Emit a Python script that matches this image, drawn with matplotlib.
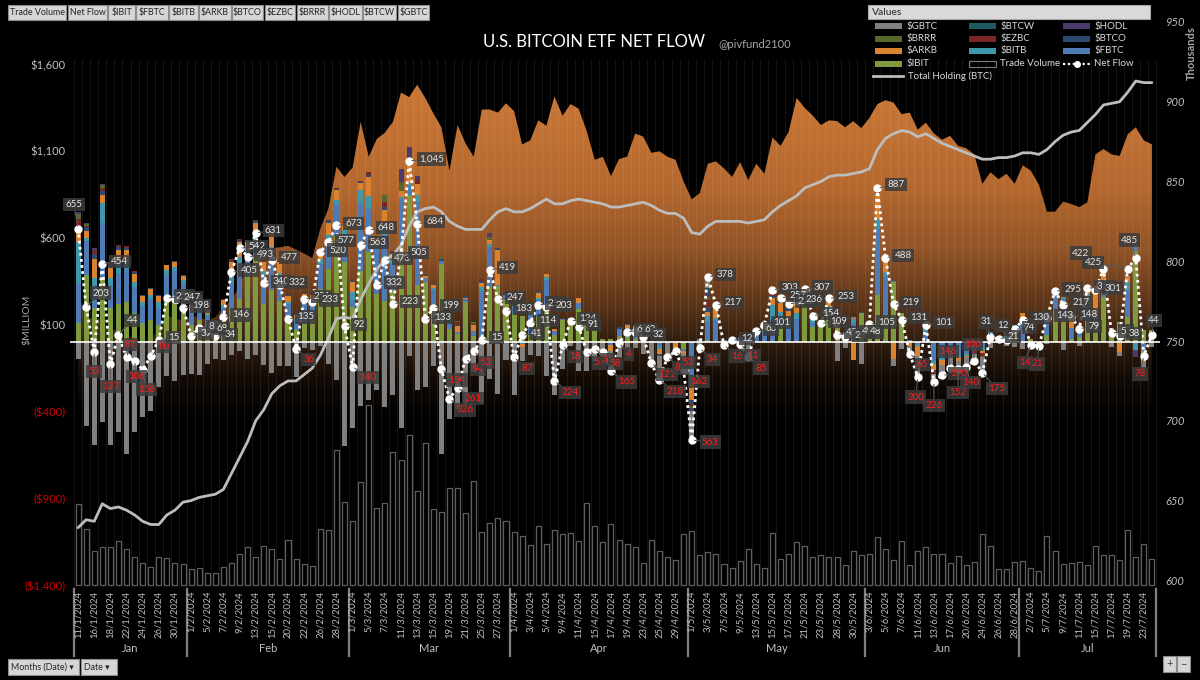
import numpy as np
import matplotlib
matplotlib.use("Agg")
import matplotlib.pyplot as plt
from matplotlib.colors import LinearSegmentedColormap
from matplotlib.patches import Rectangle
from matplotlib.lines import Line2D
import matplotlib.transforms as mtransforms

plt.rcParams["font.family"] = ["Lato", "DejaVu Sans"]

# ---------------- data ----------------
MONTHS = ["Jan", "Feb", "Mar", "Apr", "May", "Jun", "Jul"]
TRADING_DAYS = [
    [11, 12, 16, 17, 18, 19, 22, 23, 24, 25, 26, 29, 30, 31],
    [1, 2, 5, 6, 7, 8, 9, 12, 13, 14, 15, 16, 20, 21, 22, 23, 26, 27, 28, 29],
    [1, 4, 5, 6, 7, 8, 11, 12, 13, 14, 15, 18, 19, 20, 21, 22, 25, 26, 27, 28],
    [1, 2, 3, 4, 5, 8, 9, 10, 11, 12, 15, 16, 17, 18, 19, 22, 23, 24, 25, 26, 29, 30],
    [1, 2, 3, 6, 7, 8, 9, 10, 13, 14, 15, 16, 17, 20, 21, 22, 23, 24, 28, 29, 30, 31],
    [3, 4, 5, 6, 7, 10, 11, 12, 13, 14, 17, 18, 20, 21, 24, 25, 26, 27, 28],
    [1, 2, 3, 5, 8, 9, 10, 11, 12, 15, 16, 17, 18, 19, 22, 23, 24],
]

NET_FLOW = [655, 203, -53, 454, -127, 44, -87, -106, -158, -80, 15, 255, 247, 198,
            39, 80, 68, 34, 146, 405, 542, 493, 631, 340, 477, 332, 135, -36, 251, 233, 520, 577, 673, 92,
            -140, 563, 648, 332, 473, 223, 505, 1045, 684, 133, 199, -154, -326, -261, -94, -52, 15, 419, 247, 183,
            -87, 41, 114, 215, 203, -224, -18, 124, 91, -55, -36, -58, -165, -4, 60, 62, 32, -121, -218, -84, -52, -162,
            -563, -34, 378, 217, -16, 12, -11, -85, 66, 101, 303, 257, 222, 236, 307, 154, 109, 253, 45, 28, 49, 48,
            105, 887, 488, 219, 131, -65, -200, 101, -226, -190, -146, -152, -140, -106, -175, 31, 21, 12, 74,
            130, -14, -21, 143, 295, 217, 148, 79, 311, 301, 422, 53, 38, 425, 485, -78, 44]

IBIT = [112, 386, 200, 378, 200, 220, 230, 170, 110, 130, 100, 230, 230, 200,
        100, 130, 90, 60, 120, 200, 250, 380, 490, 220, 300, 240, 140, 70, 110, 130, 310, 420, 610, 460,
        202, 413, 520, 278, 240, 300, 557, 849, 330, 345, 200, 451, 75, 50, 233, 35, 35, 317, 323, 242,
        165, 150, 42, 144, 200, 45, 129, 128, 192, 111, 73, 19, 18, 37, 30, 19, 21, 0, 0, 0, 0, -37,
        0, 0, 12, 0, 0, 0, 0, 0, 0, 0, 0, 93, 0, 0, 290, 91, 89, 182, 102, 0, 0, 169,
        60, 274, 157, 350, 168, 6, 0, 0, 0, 0, 0, 0, 0, 0, 0, 0, 0, 0, 82,
        0, 20, 0, 40, 187, 121, 20, 30, 120, 117, 260, 80, 117, 148, 526, 73, 70]

FBTC = [227, 200, 110, 308, 130, 180, 190, 150, 100, 120, 100, 160, 180, 140,
        70, 85, 60, 40, 80, 150, 200, 120, 110, 160, 210, 130, 80, 60, 120, 90, 140, 160, 180, 160,
        40, 390, 250, 270, 380, 150, 269, 51, 480, 25, 100, 20, 40, 12, 19, 29, 261, 230, 10, 30,
        44, 0, 117, 100, 160, 20, 3, 15, 37, 0, 0, 2, -14, 40, 37, 35, 22, 5, -23, -3, 7, -13,
        -191, 6, 103, 130, 12, 21, 33, 9, 50, 60, 131, 67, 99, 136, 0, 19, 0, 19, 0, 40, 110, 0,
        30, 378, 220, 3, 0, 9, -9, 68, -106, -80, -60, -80, -70, -50, -35, 56, 4, 20, 0,
        110, 0, 0, 100, 77, 130, 60, 70, 115, 20, 61, 0, 0, 150, 41, -35, 0]

BITB = [238, 14, 60, 115, 40, 60, 50, 30, 20, 22, 30, 25, 25, 20,
        15, 18, 12, 10, 15, 40, 40, 30, 30, 30, 40, 30, 15, 10, 20, 20, 30, 40, 30, 25,
        48, 77, 70, 20, 50, 30, 13, 20, 40, 0, 12, 0, 0, 0, 0, 0, 20, 20, 0, 0,
        0, -10, 10, 10, 15, 0, 0, 0, 0, 0, 0, 0, 0, 0, 17, 15, 0, 0, -14, 0, 0, 0,
        -45, 14, 34, 13, 0, 0, 0, 10, 8, 11, 86, 14, 37, 35, 0, 34, 20, 10, 0, 19, 20, 0,
        15, 61, 30, -6, 1, 0, -14, 20, -18, -20, 0, -10, -10, 0, -15, 5, 17, 15, 19,
        30, 0, 4, 10, 10, 10, 0, 0, 43, 14, 35, 0, 0, 48, -44, -15, 0]

ARKB = [65, 42, 110, 48, 60, 70, 60, 45, 35, 35, 35, 28, 28, 22,
        28, 30, 22, 15, 27, 75, 90, 45, 60, 50, 85, 60, 30, 18, 30, 30, 50, 70, 55, 40,
        58, 38, 110, 30, 90, 30, 35, 93, 60, 10, 20, 0, 0, 30, 2, 35, 25, 24, 200, 0,
        0, -18, 20, 30, 20, 14, 4, -1, 28, 0, 0, 0, -35, 0, 18, 24, 50, 4, -31, 0, -32, -18,
        -98, 0, 28, 70, 0, -9, 0, 0, 8, 30, 38, 50, 43, 57, 0, 10, 0, 20, 30, 0, -99, 0,
        0, 139, 71, -90, 0, -22, -56, 6, -38, -30, -25, -20, -7, 0, -12, 0, 0, 0, 0,
        30, 0, 0, 0, 15, 0, 48, 0, 33, 150, 42, 0, -53, 38, 0, -61, 0]

GBTC = [-95, -484, -594, -458, -590, -519, -641, -515, -429, -394, -255, -192, -221, -188,
        -182, -191, -122, -95, -102, -73, -52, -95, -72, -131, -174, -138, -138, -199, -35, -44, -22, -125, -216, -599,
        -492, -368, -332, -274, -375, -303, -494, -79, -276, -257, -139, -643, -443, -386, -358, -170, -350, -212, -299, -104,
        -302, -81, -75, -80, -192, -303, -154, -18, -166, -166, -110, -79, -134, -90, -45, -35, -66, -130, -140, -81, -25, -94,
        -167, -54, 63, 4, -28, 0, -44, -104, 0, 0, 27, 0, 0, 0, 0, 0, 0, 0, -105, -31, 18, -124,
        0, 0, 0, -38, -38, -58, -121, 0, -46, -60, -61, -42, -53, -38, -90, -30, 0, -23, -27,
        -40, -34, -25, -7, 0, -44, 0, -21, 0, 0, 0, -27, -26, 0, 0, -40, -26]

# small funds: {day index: flow}
BTCO = {0: 17, 1: 20, 2: 30, 3: 25, 4: 15, 5: 18, 6: 14, 7: 9, 8: 6, 9: 7, 10: 5, 11: 4, 12: 5, 13: 4,
        14: 5, 15: 5, 16: 4, 17: 3, 18: 4, 19: 6, 20: 6, 21: 6, 22: 6, 23: 5, 24: 8, 25: 5, 26: 5, 27: 3,
        28: 4, 29: 4, 30: 6, 31: 6, 32: 7, 33: 3, 34: 4, 35: 8, 36: 15, 37: 8, 38: 20, 39: 10, 43: 5, 44: 6,
        45: 10, 46: 2, 47: 10, 48: 10, 50: 12, 52: 8, 53: 10, 54: 6, 57: 11, 67: 9, 68: 3, 69: 4, 70: 5,
        72: -10, 74: -2, 76: -20, 78: 29, 86: 10, 87: 15, 88: 20, 89: 8, 90: 10, 93: 12, 94: 10, 97: 3,
        99: 10, 100: 10, 105: 7, 106: -10, 121: 6, 127: 12, 130: 10}
EZBC = {0: 50, 1: 10, 2: 15, 3: 15, 4: 10, 5: 10, 6: 10, 7: 5, 14: 3, 15: 3, 16: 2, 17: 1, 18: 2, 19: 7,
        20: 8, 21: 7, 22: 7, 23: 6, 24: 8, 25: 5, 26: 3, 27: 2, 28: 2, 29: 3, 30: 6, 31: 6, 32: 7, 33: 3,
        35: 5, 36: 15, 38: 28, 39: 6, 42: 25, 43: 5, 47: 15, 49: 9, 50: 12, 52: 5, 53: 5, 76: -15, 78: 40,
        86: 11, 87: 18, 88: 23, 90: 7, 93: 10, 94: 8, 99: 5, 106: -8, 111: -10, 112: -15, 123: 20,
        127: 12, 130: 11}
BRRR = {0: 29, 1: 10, 3: 15, 5: 5, 38: 40, 40: 50, 41: 15, 45: 8, 47: 8, 49: 10, 51: 15, 76: -10,
        78: 15, 99: 5, 112: -8}
HODL = {0: 11, 1: 5, 2: 16, 3: 10, 4: 8, 40: 75, 41: 96, 42: 25, 51: 25, 76: -15, 78: 24, 99: 15,
        111: -8, 130: 20, 131: -38}
BTCW = {0: 1, 76: -2, 78: 30}

TOTAL_HOLDING = [633, 638, 637, 648, 645, 646, 644, 641, 637, 635, 635, 641, 644, 649,
                 650, 652, 653, 654, 657, 667, 677, 687, 700, 707, 717, 722, 725, 725, 729, 733,
                 741, 752, 764, 765, 764,
                 776, 786, 795, 801, 804, 810, 822, 831, 833, 834, 831, 825, 822, 820, 820, 820, 826, 831, 833, 831,
                 831, 833, 836, 839, 836, 836, 838, 839, 838, 837, 836, 834, 834, 835, 836, 837,
                 835, 832, 830, 830, 827, 818, 817,
                 822, 825, 825, 825, 825, 824, 825, 826, 831, 835, 838, 841, 846, 848, 850, 853, 854, 854, 855, 856,
                 858, 870, 877, 880, 882, 881, 878, 880, 877, 874, 872, 870, 868, 866, 864, 864, 865, 865, 866,
                 868, 868, 867, 870, 875, 879, 881, 882, 887, 892, 898, 899, 900, 906, 913, 912, 912]

TRADE_VOLUME = [4.53, 3.13, 1.91, 2.12, 2.12, 2.49, 2.04, 1.56, 1.25, 0.99, 1.59, 1.52, 1.25, 1.18,
                0.92, 0.97, 0.66, 0.66, 1.03, 1.25, 1.72, 2.12, 1.56, 2.21, 2.01, 1.44, 2.51, 1.44, 1.18, 1.05,
                3.13, 3.07, 7.58, 4.65,
                3.58, 5.77, 10.11, 4.33, 4.59, 7.49, 7.02, 8.44, 5.26, 7.96, 4.29, 4.08, 5.47, 5.47, 4.06, 5.84,
                2.98, 3.50, 3.76, 3.60,
                2.96, 2.77, 2.25, 3.31, 2.32, 3.07, 2.85, 2.92, 2.46, 4.59, 3.31, 2.39, 3.42, 2.51, 2.32, 2.12,
                1.25, 2.51, 1.89, 1.56, 1.39, 2.85,
                3.02, 1.67, 1.85, 1.76, 1.16, 0.97, 1.33, 2.01, 1.18, 0.94, 2.92, 1.46, 1.72, 2.40, 2.17, 1.56,
                1.69, 1.57, 1.56, 1.11, 1.93, 1.69,
                1.72, 2.71, 2.04, 1.40, 2.46, 1.11, 1.93, 2.12, 1.72, 1.72, 1.22, 1.65, 1.11, 1.28, 2.85, 2.19,
                0.92, 0.92, 1.28,
                1.35, 0.97, 0.79, 2.74, 1.93, 1.16, 1.24, 1.28, 1.11, 2.19, 1.70, 1.70, 1.39, 3.07, 1.57, 2.29, 1.46]

BTC_PRICE = [46.4, 42.8, 43.1, 42.7, 41.3, 41.6, 39.5, 39.8, 40.1, 40.0, 41.8, 43.3, 42.9, 42.6,
             43.1, 43.2, 42.6, 43.1, 44.3, 45.3, 47.1, 49.9, 49.7, 51.8, 52.0, 52.1, 52.3, 51.8, 51.3, 50.7,
             54.5, 57.1, 62.5, 61.2,
             62.4, 68.3, 63.8, 66.1, 66.9, 68.3, 72.1, 71.5, 73.1, 71.4, 69.4, 67.6, 62.0, 67.9, 65.5, 63.8,
             69.9, 69.9, 69.5, 70.7,
             69.7, 65.4, 65.9, 68.5, 67.8, 71.6, 69.1, 70.6, 70.0, 67.1, 63.4, 63.8, 61.3, 63.5, 63.8, 66.8,
             66.4, 64.3, 64.5, 63.8, 63.4, 60.6,
             58.3, 59.1, 62.9, 63.2, 62.3, 61.2, 63.1, 60.8, 62.9, 61.6, 66.3, 65.2, 67.0, 71.4, 70.1, 69.1,
             67.9, 68.5, 68.4, 67.6, 68.4, 67.5,
             68.8, 70.6, 71.1, 70.8, 69.3, 69.5, 67.3, 68.2, 66.8, 66.0, 66.5, 65.2, 64.9, 64.1, 60.3, 61.8,
             60.9, 61.6, 60.3,
             62.7, 62.0, 60.2, 56.7, 56.7, 58.0, 57.7, 57.3, 57.9, 64.1, 64.8, 64.1, 63.9, 66.7, 67.6, 65.9, 65.4]

LEFT_TICKS = [-1400, -900, -400, 100, 600, 1100, 1600]
RIGHT_TICKS = [600, 650, 700, 750, 800, 850, 900, 950]
BUTTONS_TOP = ["Trade Volume", "Net Flow", "$IBIT", "$FBTC", "$BITB", "$ARKB", "$BTCO",
               "$EZBC", "$BRRR", "$HODL", "$BTCW", "$GBTC"]

# label placement tweaks (pixel offsets from the point), styling only
LABEL_OFFSETS = {0: (-4, 24), 1: (6, 14), 2: (0, -20), 4: (0, -22), 5: (8, 14), 6: (4, 13),
                 7: (2, -16), 8: (4, -20), 9: (8, 10), 104: (-2, -20), 106: (0, -24),
                 107: (8, 2), 108: (-2, 16), 109: (0, -24), 110: (4, -16), 111: (-2, 16),
                 112: (6, -16), 113: (-4, 15), 115: (-4, 15), 118: (-6, -18), 119: (-2, -18),
                 127: (-14, 16), 130: (-26, 6), 131: (-6, 18), 132: (-4, -18), 133: (2, 14),
                 99: (10, 4), 41: (10, 2), 76: (10, -2)}

# ---------------- setup ----------------
N = len(NET_FLOW)
for arr in (IBIT, FBTC, BITB, ARKB, GBTC, TOTAL_HOLDING, TRADE_VOLUME, BTC_PRICE):
    assert len(arr) == N, len(arr)


def dense(d):
    out = np.zeros(N)
    for k, v in d.items():
        out[k] = v
    return out


x = np.arange(N)
dates = [f"{d}/{m + 1}/2024" for m, days in enumerate(TRADING_DAYS) for d in days]
assert len(dates) == N

SERIES = [
    ("$IBIT", np.array(IBIT, float), "#7d9a3e"),
    ("$FBTC", np.array(FBTC, float), "#4f7bb5"),
    ("$BITB", np.array(BITB, float), "#3e98aa"),
    ("$ARKB", np.array(ARKB, float), "#d9822f"),
    ("$BTCO", dense(BTCO), "#2b4a70"),
    ("$EZBC", dense(EZBC), "#7a2626"),
    ("$BRRR", dense(BRRR), "#56692a"),
    ("$HODL", dense(HODL), "#4b3b6b"),
    ("$BTCW", dense(BTCW), "#1e5a62"),
    ("$GBTC", np.array(GBTC, float), "#808080"),
]
COLORS = {n: c for n, _, c in SERIES}

fig = plt.figure(figsize=(12, 6.8), dpi=100, facecolor="black")
RECT = [70 / 1200, 92 / 680, 1090 / 1200, 566 / 680]
XL = (-1, N)
LEFT_LIM = (-1415, 1845)
RIGHT_LIM = (595.2, 950)
PRICE_LIM = (8.1, 81.2)
VOL_LIM = (-0.17, 31.6)

ax_price = fig.add_axes(RECT, zorder=0)
ax_vol = fig.add_axes(RECT, zorder=1)
ax = fig.add_axes(RECT, zorder=2)
ax_hold = fig.add_axes(RECT, zorder=3)
ax_net = fig.add_axes(RECT, zorder=4)
for a in (ax_price, ax_vol, ax, ax_hold, ax_net):
    a.set_facecolor("none")
    a.set_xlim(XL)
    for s in a.spines.values():
        s.set_visible(False)
    a.set_xticks([])

# BTC price gradient area
ax_price.axis("off")
poly = ax_price.fill_between(x, PRICE_LIM[0], BTC_PRICE, color="none", lw=0)
grad = np.linspace(0, 1, 600).reshape(-1, 1)
cmap = LinearSegmentedColormap.from_list("area", [
    (0.0, "#000000"), (0.30, "#000000"), (0.37, "#130b06"), (0.436, "#301d0f"),
    (0.505, "#5e361a"), (0.60, "#925427"), (0.71, "#b5692f"), (0.85, "#c67536"), (1.0, "#d07e3d")])
img = ax_price.imshow(grad, extent=[XL[0], XL[1], PRICE_LIM[0], PRICE_LIM[1]], origin="lower",
                      aspect="auto", cmap=cmap, zorder=1, interpolation="bilinear")
img.set_clip_path(poly.get_paths()[0], transform=ax_price.transData)
ax_price.set_xlim(XL)
ax_price.set_ylim(PRICE_LIM)

# trade volume (hollow bars)
ax_vol.axis("off")
ax_vol.bar(x, TRADE_VOLUME, width=0.62, fill=False, edgecolor="#5e5e5e", lw=0.9)
ax_vol.set_ylim(VOL_LIM)
ax_vol.set_xlim(XL)

# stacked flows
ax.vlines(np.arange(N + 1) - 0.5, LEFT_LIM[0], 1630, colors="white", alpha=0.08, lw=0.8, zorder=0)
pos = np.zeros(N)
neg = np.zeros(N)
for name, vals, col in SERIES:
    bottom = np.where(vals >= 0, pos, neg)
    ax.bar(x, vals, width=0.62, bottom=bottom, color=col, lw=0, zorder=2)
    pos += np.clip(vals, 0, None)
    neg += np.clip(vals, None, 0)
ax.set_ylim(LEFT_LIM)
ax.set_yticks(LEFT_TICKS)
ax.set_yticklabels([f"${v:,}" if v >= 0 else f"(${-v:,})" for v in LEFT_TICKS])
for lbl, v in zip(ax.get_yticklabels(), LEFT_TICKS):
    lbl.set_color("#bfbfbf" if v >= 0 else "#d00000")
ax.tick_params(axis="y", length=0, pad=3, labelsize=8)

# total holding
ax_hold.plot(x, TOTAL_HOLDING, color="#bdbdbd", lw=2.0, solid_capstyle="round", zorder=3)
ax_hold.set_ylim(RIGHT_LIM)
ax_hold.yaxis.tick_right()
ax_hold.set_yticks(RIGHT_TICKS)
ax_hold.set_yticklabels([str(v) for v in RIGHT_TICKS])
for lbl in ax_hold.get_yticklabels():
    lbl.set_fontstyle("italic")
ax_hold.tick_params(axis="y", length=0, pad=4, labelsize=8, labelcolor="#bfbfbf")

# net flow line + labels
ax_net.set_ylim(LEFT_LIM)
ax_net.set_yticks([])
ax_net.axhline(0, color="white", lw=1.2, zorder=1)
ax_net.plot(x, NET_FLOW, color="white", lw=2.0, ls=(0, (1, 1.2)), marker="o", ms=5,
            mfc="white", mec="white", zorder=3)
for i, v in enumerate(NET_FLOW):
    if v >= 0:
        off, col = (9, 2), "#e6e6e6"
    else:
        off, col = (7, -11), "#ff1c1c"
    off = LABEL_OFFSETS.get(i, off)
    ha = "left" if off[0] >= 6 else ("right" if off[0] <= -12 else "center")
    ax_net.annotate(f"{abs(v):,}", (i, v), xytext=off, textcoords="offset pixels",
                    ha=ha, va="center", fontsize=7, color=col, zorder=5,
                    bbox=dict(boxstyle="square,pad=0.22", fc="#3c3c3c", ec="none", alpha=0.85),
                    arrowprops=dict(arrowstyle="-", color="#5a5a5a", lw=0.8, shrinkA=0, shrinkB=2))

# ---------------- overlay (pixel coordinates) ----------------
ov = fig.add_axes([0, 0, 1, 1], zorder=10)
ov.set_xlim(0, 1200)
ov.set_ylim(680, 0)
ov.axis("off")

ov.text(594, 42, "U.S. BITCOIN ETF NET FLOW", ha="center", va="center", fontsize=12, color="white")
ov.text(718, 45, "@pivfund2100", ha="left", va="center", fontsize=8, color="#a6a6a6")
ov.text(27, 320, "$MILLIOM", rotation=90, ha="center", va="center", fontsize=7.5, color="#a6a6a6")
ov.text(1191, 53, "Thousands", rotation=90, ha="center", va="center", fontsize=8,
        color="#a6a6a6", fontweight="bold")

# x-axis date labels and month groups
trans = mtransforms.blended_transform_factory(ax.transData, ov.transData)
for i in range(0, N, 2):
    ov.text(i, 591, dates[i], transform=trans, rotation=90, ha="center", va="top",
            fontsize=6.8, color="#bfbfbf")
start = 0
for m, days in enumerate(TRADING_DAYS):
    end = start + len(days)
    ov.plot([start - 0.5, start - 0.5], [589, 656], transform=trans, color="#808080", lw=1.6)
    ov.text((start + end - 1) / 2, 648, MONTHS[m], transform=trans, ha="center", va="center",
            fontsize=8, color="#bfbfbf")
    start = end
ov.plot([N - 0.5, N - 0.5], [589, 656], transform=trans, color="#808080", lw=1.6)

# top field buttons
bx = [(8, 66), (68, 107), (108, 135), (136, 168), (169, 198), (199, 231), (232, 263),
      (265, 295), (297, 328), (329, 362), (363, 396), (398, 429)]
for lab, (x0, x1) in zip(BUTTONS_TOP, bx):
    ov.add_patch(Rectangle((x0, 5), x1 - x0, 15, fc="#d6d6d6", ec="#8c8c8c", lw=0.8))
    ov.text((x0 + x1) / 2, 12.8, lab, ha="center", va="center", fontsize=6.4, color="#262626")

# bottom buttons
for lab, (x0, x1) in zip(["Months (Date) \u25be", "Date \u25be"], [(8, 79), (81, 117)]):
    ov.add_patch(Rectangle((x0, 659), x1 - x0, 16, fc="#d6d6d6", ec="#8c8c8c", lw=0.8))
    ov.text(x0 + 3, 667.5, lab, ha="left", va="center", fontsize=6.4, color="#262626")
for lab, (x0, x1) in zip(["+", "\u2212"], [(1163, 1176), (1177, 1190)]):
    ov.add_patch(Rectangle((x0, 656), x1 - x0, 16, fc="#d6d6d6", ec="#8c8c8c", lw=0.8))
    ov.text((x0 + x1) / 2, 664, lab, ha="center", va="center", fontsize=8, color="#404040")

# legend
ov.add_patch(Rectangle((868, 5), 282, 14, fc="#d9d9d9", ec="#a6a6a6", lw=0.8))
ov.text(872, 12.5, "Values", ha="left", va="center", fontsize=7.5, color="#262626")
rows = [26, 38.5, 51, 63.5]
cols = [(875, 906), (969, 1000), (1063, 1094)]
grid = [["$GBTC", "$BTCW", "$HODL"],
        ["$BRRR", "$EZBC", "$BTCO"],
        ["$ARKB", "$BITB", "$FBTC"],
        ["$IBIT", "Trade Volume", "Net Flow"]]
for r, row in enumerate(grid):
    for c, name in enumerate(row):
        sx, tx = cols[c]
        yy = rows[r]
        if name == "Trade Volume":
            ov.add_patch(Rectangle((sx, yy - 3), 27, 6, fill=False, ec="#7a7a7a", lw=0.8))
        elif name == "Net Flow":
            ov.add_line(Line2D([sx, sx + 27], [yy, yy], color="white", lw=1.6, ls=(0, (1, 1.2))))
            ov.plot([sx + 13.5], [yy], "o", color="white", ms=4)
        else:
            ov.add_patch(Rectangle((sx, yy - 3), 27, 6, fc=COLORS[name], ec="none"))
        ov.text(tx, yy, name, ha="left", va="center", fontsize=7, color="#d9d9d9")
ov.add_line(Line2D([873, 903], [76, 76], color="#bdbdbd", lw=2))
ov.text(908, 76, "Total Holding (BTC)", ha="left", va="center", fontsize=7, color="#d9d9d9")

fig.savefig("out.png", dpi=100, facecolor="black")
